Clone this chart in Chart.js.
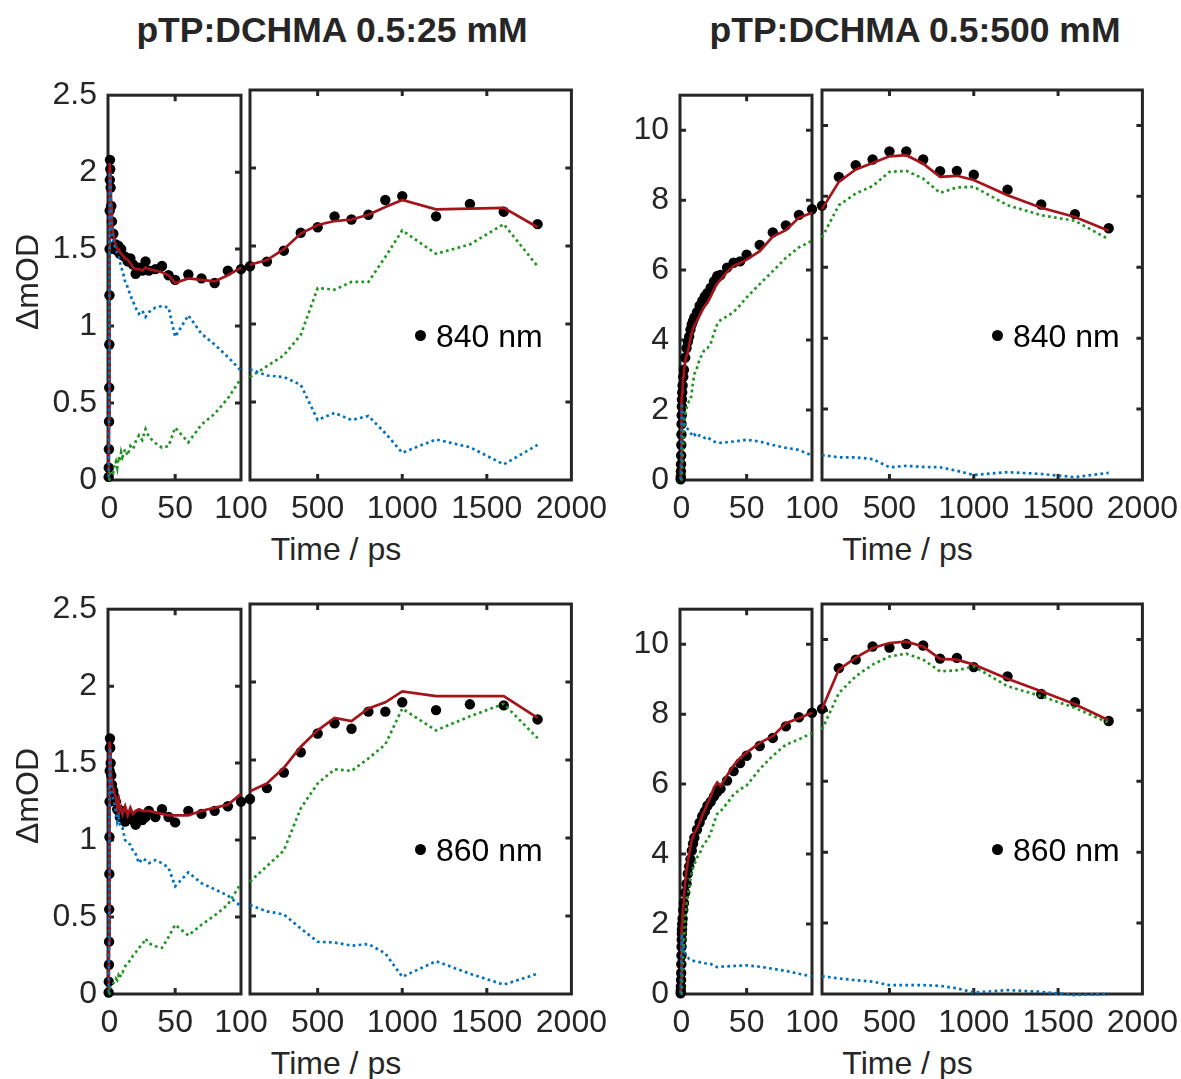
<!DOCTYPE html>
<html>
<head>
<meta charset="utf-8">
<title>pTP:DCHMA kinetics at 840 and 860 nm</title>
<script src="https://cdn.jsdelivr.net/npm/chart.js@4.4.1/dist/chart.umd.min.js"></script>
<style>
  html, body { margin: 0; padding: 0; background: #fff; }
  body { position: relative; width: 1181px; height: 1079px; overflow: hidden;
         font-family: "Liberation Sans", Arial, Helvetica, sans-serif; color: #262626; }
  canvas { position: absolute; }
  .txt { position: absolute; white-space: nowrap; }
  .title { font-weight: bold; font-size: 35.5px; line-height: 35px; text-align: center; width: 600px; color: #262626; }
  .xlab { font-size: 32px; line-height: 32px; text-align: center; width: 300px; }
  .ylab { font-size: 32px; line-height: 32px; text-align: center; width: 200px; height: 32px; transform: rotate(-90deg); }
  .leg { font-size: 32px; line-height: 32px; color: #000; }
  .dot { position: absolute; width: 11px; height: 11px; border-radius: 50%; background: #000; }
</style>
</head>
<body>
<script>
// ---- Shared time axis (ps) ----
const timePs = [-0.5, -0.4, -0.3, -0.2, -0.1, 0, 0.1, 0.2, 0.3, 0.4, 0.5, 0.7, 1, 1.5, 2,
  3, 4, 5, 6, 7, 8, 9, 10, 12, 14, 16, 18, 20, 22.5, 25, 27.5, 30, 35, 40, 45, 50,
  60, 70, 80, 90, 100, 200, 300, 400, 500, 600, 700, 800, 900, 1000, 1200, 1400, 1600, 1800];

// ---- Tick labels ----
const xTicksEarly = [0, 50, 100];
const xTicksLate = [500, 1000, 1500, 2000];
const yTicks25mM = [0, 0.5, 1, 1.5, 2, 2.5];
const yTicks500mM = [0, 2, 4, 6, 8, 10];

// ---- Text ----
const panelTitles = ['pTP:DCHMA 0.5:25 mM', 'pTP:DCHMA 0.5:500 mM'];
const wavelengthLabels = ['840 nm', '860 nm'];
const xAxisTitle = 'Time / ps';
const yAxisTitle = '\u0394mOD';

// ---- 840 nm, 0.5:25 mM ----
const data840_25 = [0.02, 0.08, 0.2, 0.38, 0.6, 0.88, 1.2, 1.5, 1.75, 1.95, 2.08, 2.02, 1.9, 1.78, 1.68,
  1.6, 1.5, 1.53, 1.49, 1.52, 1.47, 1.5, 1.46, 1.45, 1.42, 1.44, 1.4, 1.34, 1.38, 1.36, 1.42, 1.36,
  1.37, 1.39, 1.33, 1.3, 1.335, 1.31, 1.28, 1.36, 1.37,
  1.4, 1.47, 1.585, 1.62, 1.69, 1.67, 1.7, 1.795, 1.82, 1.69, 1.77, 1.72, 1.64];
const fit840_25 = [0.02, 0.1, 0.22, 0.4, 0.62, 0.9, 1.22, 1.52, 1.78, 1.97, 2.06, 2.0, 1.9, 1.78, 1.68,
  1.6, 1.55, 1.52, 1.5, 1.5, 1.48, 1.47, 1.46, 1.44, 1.43, 1.41, 1.38, 1.37, 1.37, 1.36, 1.38, 1.37,
  1.36, 1.35, 1.33, 1.28, 1.31, 1.3, 1.29, 1.33, 1.38,
  1.41, 1.48, 1.58, 1.635, 1.66, 1.67, 1.7, 1.75, 1.795, 1.735, 1.74, 1.745, 1.62];
const fast840_25 = [0.02, 0.1, 0.22, 0.4, 0.62, 0.9, 1.21, 1.5, 1.75, 1.93, 2.0, 1.95, 1.84, 1.72, 1.62,
  1.55, 1.52, 1.5, 1.47, 1.45, 1.42, 1.38, 1.36, 1.29, 1.25, 1.2, 1.16, 1.12, 1.08, 1.1, 1.06, 1.09,
  1.12, 1.13, 1.12, 0.93, 1.07, 0.95, 0.88, 0.8, 0.71,
  0.67, 0.66, 0.61, 0.385, 0.43, 0.385, 0.41, 0.3, 0.175, 0.26, 0.21, 0.1, 0.225];
const slow840_25 = [0, 0, 0, 0, 0, 0, 0.01, 0.01, 0.02, 0.03, 0.04, 0.05, 0.06, 0.06, 0.06,
  0.05, 0.1, 0.12, 0.08, 0.15, 0.12, 0.18, 0.15, 0.2, 0.16, 0.22, 0.2, 0.25, 0.29, 0.26, 0.33, 0.28,
  0.24, 0.21, 0.22, 0.34, 0.245, 0.36, 0.43, 0.53, 0.66,
  0.73, 0.8, 0.93, 1.23, 1.22, 1.27, 1.27, 1.43, 1.6, 1.45, 1.51, 1.64, 1.37];

// ---- 840 nm, 0.5:500 mM ----
const data840_500 = [0.02, 0.1, 0.25, 0.45, 0.7, 1.0, 1.3, 1.6, 1.85, 2.1, 2.3, 2.5, 2.7, 2.95, 3.15,
  3.5, 3.77, 3.95, 4.1, 4.3, 4.45, 4.55, 4.65, 4.8, 4.98, 5.12, 5.25, 5.35, 5.5, 5.68, 5.83, 5.86,
  6.07, 6.21, 6.25, 6.44, 6.72, 7.08, 7.28, 7.58, 7.74,
  8.55, 8.88, 9.04, 9.27, 9.27, 9.04, 8.71, 8.72, 8.61, 8.19, 7.77, 7.5, 7.1];
const fit840_500 = [0.02, 0.1, 0.25, 0.45, 0.7, 1.0, 1.3, 1.6, 1.85, 2.1, 2.3, 2.5, 2.7, 2.95, 3.12,
  3.4, 3.55, 3.65, 3.85, 4.05, 4.2, 4.33, 4.42, 4.55, 4.7, 4.85, 4.98, 5.07, 5.25, 5.45, 5.62, 5.72,
  5.95, 6.12, 6.2, 6.3, 6.54, 6.96, 7.14, 7.5, 7.64,
  8.41, 8.76, 8.94, 9.13, 9.16, 8.92, 8.55, 8.58, 8.46, 8.03, 7.68, 7.42, 7.03];
const fast840_500 = [0.02, 0.1, 0.25, 0.45, 0.7, 1.0, 1.3, 1.6, 1.85, 2.05, 2.2, 2.1, 1.95, 1.8, 1.65,
  1.55, 1.5, 1.45, 1.4, 1.35, 1.3, 1.25, 1.3, 1.22, 1.28, 1.25, 1.2, 1.23, 1.15, 1.1, 1.08, 1.06,
  1.08, 1.1, 1.12, 1.15, 1.1, 1.0, 0.92, 0.86, 0.7,
  0.64, 0.64, 0.59, 0.36, 0.4, 0.37, 0.36, 0.26, 0.14, 0.22, 0.17, 0.08, 0.2];
const slow840_500 = [0, 0, 0, 0, 0, 0, 0.02, 0.05, 0.1, 0.15, 0.2, 0.4, 0.7, 1.1, 1.5,
  1.9, 2.05, 2.18, 2.25, 2.27, 2.5, 2.8, 3.03, 3.2, 3.45, 3.6, 3.74, 3.77, 3.9, 4.2, 4.45, 4.57,
  4.68, 4.8, 5.0, 5.22, 5.6, 5.97, 6.35, 6.65, 6.84,
  7.75, 8.08, 8.29, 8.69, 8.72, 8.5, 8.1, 8.25, 8.27, 7.75, 7.47, 7.31, 6.79];

// ---- 860 nm, 0.5:25 mM ----
const data860_25 = [0.01, 0.08, 0.19, 0.34, 0.55, 0.78, 1.02, 1.25, 1.45, 1.6, 1.66, 1.6, 1.5, 1.42, 1.36,
  1.32, 1.28, 1.25, 1.2, 1.19, 1.15, 1.17, 1.19, 1.12, 1.15, 1.15, 1.13, 1.1, 1.17, 1.13, 1.15, 1.19,
  1.15, 1.2, 1.15, 1.115, 1.19, 1.17, 1.19, 1.22, 1.25,
  1.32, 1.42, 1.55, 1.67, 1.735, 1.7, 1.81, 1.81, 1.87, 1.82, 1.857, 1.85, 1.76];
const fit860_25 = [0.01, 0.08, 0.19, 0.34, 0.55, 0.78, 1.02, 1.25, 1.45, 1.58, 1.64, 1.58, 1.48, 1.4, 1.36,
  1.34, 1.3, 1.276, 1.21, 1.256, 1.19, 1.21, 1.17, 1.22, 1.16, 1.21, 1.17, 1.19, 1.2, 1.19, 1.19, 1.19,
  1.18, 1.17, 1.16, 1.16, 1.16, 1.19, 1.21, 1.23, 1.3,
  1.35, 1.45, 1.585, 1.69, 1.77, 1.75, 1.83, 1.87, 1.94, 1.91, 1.91, 1.91, 1.77];
const fast860_25 = [0.01, 0.08, 0.19, 0.34, 0.55, 0.78, 1.02, 1.25, 1.44, 1.56, 1.6, 1.52, 1.42, 1.34, 1.3,
  1.26, 1.23, 1.18, 1.12, 1.15, 1.1, 1.08, 1.08, 1.0, 0.98, 0.97, 0.93, 0.91, 0.85, 0.88, 0.87, 0.85,
  0.87, 0.85, 0.82, 0.7, 0.79, 0.72, 0.68, 0.64, 0.57,
  0.53, 0.51, 0.42, 0.335, 0.33, 0.31, 0.32, 0.26, 0.11, 0.21, 0.13, 0.06, 0.13];
const slow860_25 = [0, 0, 0, 0, 0, 0, 0.01, 0.01, 0.02, 0.02, 0.03, 0.04, 0.05, 0.06, 0.06,
  0.07, 0.08, 0.1, 0.09, 0.12, 0.1, 0.14, 0.14, 0.18, 0.2, 0.22, 0.25, 0.27, 0.3, 0.32, 0.36, 0.33,
  0.31, 0.3, 0.37, 0.45, 0.38, 0.45, 0.51, 0.58, 0.72,
  0.82, 0.92, 1.19, 1.35, 1.44, 1.43, 1.51, 1.6, 1.83, 1.69, 1.78, 1.86, 1.64];

// ---- 860 nm, 0.5:500 mM ----
const data860_500 = [0.02, 0.1, 0.22, 0.4, 0.6, 0.85, 1.1, 1.35, 1.55, 1.72, 1.85, 2.0, 2.15, 2.4, 2.6,
  2.9, 3.15, 3.44, 3.65, 3.85, 4.1, 4.3, 4.47, 4.7, 4.9, 5.08, 5.22, 5.38, 5.5, 5.65, 5.78, 5.87,
  6.1, 6.37, 6.6, 6.81, 7.09, 7.32, 7.65, 7.91, 8.04,
  9.19, 9.43, 9.8, 9.77, 9.87, 9.83, 9.46, 9.48, 9.22, 8.96, 8.46, 8.23, 7.7];
const fit860_500 = [0.02, 0.1, 0.22, 0.4, 0.6, 0.85, 1.1, 1.35, 1.55, 1.72, 1.85, 2.05, 2.25, 2.55, 2.8,
  3.2, 3.55, 3.81, 4.0, 4.2, 4.4, 4.5, 4.6, 4.72, 4.9, 5.1, 5.26, 5.45, 5.65, 5.9, 6.05, 5.95,
  6.25, 6.53, 6.75, 6.9, 7.18, 7.37, 7.74, 7.88, 8.04,
  9.15, 9.49, 9.76, 9.9, 9.94, 9.8, 9.45, 9.43, 9.29, 8.89, 8.54, 8.17, 7.72];
const fast860_500 = [0.02, 0.1, 0.22, 0.4, 0.6, 0.85, 1.1, 1.35, 1.52, 1.65, 1.72, 1.6, 1.5, 1.38, 1.25,
  1.17, 1.1, 1.05, 1.0, 0.98, 0.96, 0.95, 0.94, 0.92, 0.91, 0.9, 0.88, 0.87, 0.86, 0.8, 0.77, 0.78,
  0.79, 0.8, 0.81, 0.82, 0.78, 0.72, 0.66, 0.58, 0.5,
  0.44, 0.39, 0.35, 0.25, 0.25, 0.25, 0.23, 0.16, 0.04, 0.11, 0.06, -0.03, 0.0];
const slow860_500 = [0, 0, 0, 0, 0, 0, 0.02, 0.05, 0.1, 0.15, 0.2, 0.45, 0.75, 1.15, 1.5,
  2.2, 2.55, 2.8, 3.05, 3.3, 3.5, 3.6, 3.7, 3.9, 4.0, 4.2, 4.33, 4.4, 4.6, 4.9, 5.15, 5.22,
  5.45, 5.7, 5.85, 5.96, 6.43, 6.81, 7.13, 7.28, 7.46,
  8.49, 8.96, 9.29, 9.52, 9.6, 9.43, 9.1, 9.13, 9.24, 8.68, 8.4, 8.07, 7.65];

// ---- Styling ----
const FONT = '"Liberation Sans", Arial, Helvetica, sans-serif';
const INK = '#262626';
const FIT_RED = '#a3141b';
const FAST_BLUE = '#0072bd';
const SLOW_GREEN = '#1f951f';

// Box outline with inward tick marks on all four sides.
const frameBox = {
  id: 'frameBox',
  beforeDatasetsDraw(chart, args, opts) {
    const { ctx, chartArea: a, scales } = chart;
    const x = scales.x, y = scales.y;
    const len = 6;
    ctx.save();
    ctx.strokeStyle = INK;
    ctx.lineWidth = 3;
    ctx.beginPath();
    for (const v of opts.xTicks) {
      const px = x.getPixelForValue(v);
      if (px <= a.left + 3 || px >= a.right - 3) continue;
      ctx.moveTo(px, a.bottom); ctx.lineTo(px, a.bottom - len);
      ctx.moveTo(px, a.top); ctx.lineTo(px, a.top + len);
    }
    for (const v of opts.yTicks) {
      const py = y.getPixelForValue(v);
      if (py <= a.top + 3 || py >= a.bottom - 3) continue;
      ctx.moveTo(a.left, py); ctx.lineTo(a.left + len, py);
      ctx.moveTo(a.right, py); ctx.lineTo(a.right - len, py);
    }
    ctx.stroke();
    ctx.strokeRect(a.left, a.top, a.right - a.left, a.bottom - a.top);
    ctx.restore();
  }
};

function pointsIn(values, lo, hi) {
  const pts = [];
  timePs.forEach((t, i) => { if (t >= lo && t <= hi) pts.push({ x: t, y: values[i] }); });
  return pts;
}

function addText(cls, text, css) {
  const d = document.createElement('div');
  d.className = 'txt ' + cls;
  d.textContent = text;
  Object.assign(d.style, css);
  document.body.appendChild(d);
  return d;
}

// One half of a broken time axis.
function subplot(frame, range, xTicks, panel, showY) {
  const T = 25, R = 45, B = 45, L = showY ? 100 : 20;
  const canvas = document.createElement('canvas');
  canvas.width = L + frame.w + R;
  canvas.height = T + frame.h + B;
  canvas.style.left = (frame.x - L) + 'px';
  canvas.style.top = (frame.y - T) + 'px';
  document.body.appendChild(canvas);

  const [lo, hi] = range;
  const line = (values, color, width, dash, order) => ({
    data: pointsIn(values, lo, hi), showLine: true, borderColor: color,
    borderWidth: width, borderDash: dash, borderCapStyle: 'butt', pointRadius: 0,
    tension: 0, order, clip: 3
  });
  const tickFont = { family: FONT, size: 32 };

  new Chart(canvas, {
    type: 'scatter',
    data: {
      datasets: [
        line(panel.fast, FAST_BLUE, 2.7, [2.7, 3.3], 1),
        line(panel.slow, SLOW_GREEN, 2.7, [2.7, 3.3], 2),
        line(panel.fit, FIT_RED, 2.7, [], 3),
        {
          label: panel.legend,
          data: pointsIn(panel.data, lo, hi), showLine: false,
          pointRadius: 5.2, pointBackgroundColor: '#000', pointBorderColor: '#000',
          pointBorderWidth: 0, order: 4, clip: 8
        }
      ]
    },
    options: {
      responsive: false, animation: false, devicePixelRatio: 1, events: [],
      layout: { padding: { left: showY ? 0 : L, top: T, right: R, bottom: 0 } },
      plugins: { legend: { display: false }, tooltip: { enabled: false },
                 frameBox: { xTicks, yTicks: panel.yTicks } },
      scales: {
        x: {
          type: 'linear', position: 'bottom', min: lo, max: hi,
          grid: { display: false, drawTicks: false }, border: { display: false },
          afterBuildTicks: s => { s.ticks = xTicks.map(v => ({ value: v })); },
          afterFit: s => { s.height = B; },
          ticks: { color: INK, font: tickFont, padding: 10, maxRotation: 0, autoSkip: false,
                   callback: v => String(v) }
        },
        y: {
          type: 'linear', position: 'left', min: 0, max: panel.yMax, display: showY,
          grid: { display: false, drawTicks: false }, border: { display: false },
          afterBuildTicks: s => { s.ticks = panel.yTicks.map(v => ({ value: v })); },
          afterFit: s => { s.width = showY ? L : 0; },
          ticks: { color: INK, font: tickFont, padding: 11, autoSkip: false,
                   callback: v => String(v) }
        }
      }
    },
    plugins: [frameBox]
  });
}

const panels = [
  { early: { x: 108, w: 133 }, late: { x: 250, w: 322 }, y: 90, yMax: 2.5, yTicks: yTicks25mM,
    data: data840_25, fit: fit840_25, fast: fast840_25, slow: slow840_25,
    legend: wavelengthLabels[0], legX: 420, title: panelTitles[0], titleX: 332, yLabel: true },
  { early: { x: 680, w: 132 }, late: { x: 822, w: 321 }, y: 90, yMax: 11, yTicks: yTicks500mM,
    data: data840_500, fit: fit840_500, fast: fast840_500, slow: slow840_500,
    legend: wavelengthLabels[0], legX: 997, title: panelTitles[1], titleX: 915, yLabel: false },
  { early: { x: 108, w: 133 }, late: { x: 250, w: 322 }, y: 604, yMax: 2.5, yTicks: yTicks25mM,
    data: data860_25, fit: fit860_25, fast: fast860_25, slow: slow860_25,
    legend: wavelengthLabels[1], legX: 420, title: null, yLabel: true },
  { early: { x: 680, w: 132 }, late: { x: 822, w: 321 }, y: 604, yMax: 11, yTicks: yTicks500mM,
    data: data860_500, fit: fit860_500, fast: fast860_500, slow: slow860_500,
    legend: wavelengthLabels[1], legX: 997, title: null, yLabel: false }
];

panels.forEach(p => {
  const h = 390;
  subplot({ x: p.early.x, y: p.y, w: p.early.w, h }, [-1, 100], xTicksEarly, p, true);
  subplot({ x: p.late.x, y: p.y, w: p.late.w, h }, [100, 2000], xTicksLate, p, false);

  const left = p.early.x, right = p.late.x + p.late.w;
  const cx = (left + right) / 2 - 4;
  if (p.title) addText('title', p.title, { left: (p.titleX - 300) + 'px', top: '13px' });
  addText('xlab', xAxisTitle, { left: (cx - 150) + 'px', top: (p.y + h + 53) + 'px' });
  if (p.yLabel) addText('ylab', yAxisTitle, { left: (27 - 100) + 'px', top: (p.y + 192 - 16) + 'px' });

  // Legend entry inside the late-time axes
  const legY = p.y + 245;
  const dot = document.createElement('div');
  dot.className = 'dot';
  dot.style.left = (p.legX - 5.5) + 'px';
  dot.style.top = (legY - 5.5) + 'px';
  document.body.appendChild(dot);
  addText('leg', p.legend, { left: (p.legX + 16) + 'px', top: (legY - 15) + 'px' });
});
</script>
</body>
</html>
